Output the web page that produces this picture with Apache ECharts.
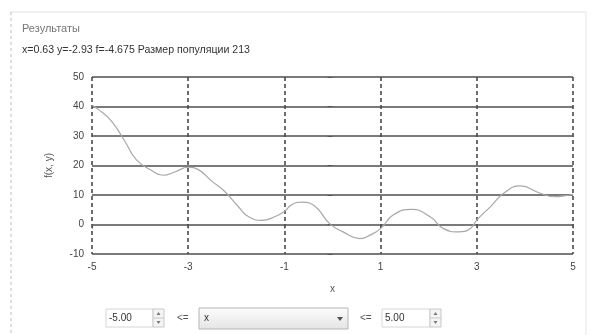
<!DOCTYPE html>
<html><head><meta charset="utf-8">
<script src="https://cdn.jsdelivr.net/npm/echarts@6/dist/echarts.min.js"></script>
<style>html,body{margin:0;padding:0;background:#fff;}#c{width:592px;height:335px;}</style>
</head><body><div id="c"></div>
<script>
const titleText = 'Результаты';
const infoText = 'x=0.63 y=-2.93 f=-4.675 Размер популяции 213';
const xName = 'x';
const yName = 'f(x, y)';
const xVals = [-5, -4.875, -4.6, -4.32, -4.08, -3.76, -3.52, -3.28, -3.0, -2.79, -2.51, -2.24, -1.96, -1.75, -1.47, -1.19, -1.0, -0.85, -0.64, -0.36, -0.06, 0.22, 0.57, 0.78, 1.0, 1.26, 1.65, 2.03, 2.31, 2.62, 2.86, 3.0, 3.28, 3.56, 3.90, 4.32, 4.6, 4.94, 5.0];
const yVals = [40.4, 39.1, 35.1, 28.3, 22, 18.3, 16.7, 17.8, 19.4, 18.6, 14.7, 11.2, 6.1, 2.7, 1.4, 2.7, 4.4, 6.7, 7.6, 6.1, 0.3, -2.5, -4.8, -3.6, -1.4, 3.2, 5.1, 2.6, -1.4, -2.5, -1.4, 1.5, 6.0, 10.6, 13.1, 10.6, 9.4, 10, 10.2];
const xMin = -5, xMax = 5, xStep = 2;
const yMin = -10, yMax = 50, yStep = 10;
const lowText = '-5.00', highText = '5.00', leText = '<=', selText = 'x';

const chart = echarts.init(document.getElementById('c'), null, {renderer:'canvas'});
const font = 'Arial, "Liberation Sans", sans-serif';
function spinner(x, y) {
  return [
    {type:'rect', shape:{x:x, y:y, width:11, height:18}, style:{fill:'#f4f4f4', stroke:'#c8c8c8', lineWidth:1}},
    {type:'line', shape:{x1:x, y1:y+9, x2:x+11, y2:y+9}, style:{stroke:'#c8c8c8'}},
    {type:'polygon', shape:{points:[[x+3.5,y+6],[x+7.5,y+6],[x+5.5,y+3]]}, style:{fill:'#777'}},
    {type:'polygon', shape:{points:[[x+3.5,y+12],[x+7.5,y+12],[x+5.5,y+15]]}, style:{fill:'#777'}}
  ];
}
const graphics = [
  {type:'line', shape:{x1:10, y1:12, x2:586, y2:12}, style:{stroke:'#e2e2e2', lineWidth:1}},
  {type:'line', shape:{x1:11, y1:12, x2:11, y2:335}, style:{stroke:'#bdbdbd', lineWidth:1, lineDash:[3,3]}},
  {type:'line', shape:{x1:586, y1:12, x2:586, y2:335}, style:{stroke:'#e6e6e6', lineWidth:1}},
  {type:'text', left:22, top:23, style:{text:titleText, font:'11px '+font, fill:'#777'}},
  {type:'text', left:22, top:45, style:{text:infoText, font:'10.6px '+font, fill:'#333'}},
  {type:'rect', shape:{x:106, y:309, width:47, height:18}, style:{fill:'#fff', stroke:'#d6d6d6', lineWidth:1}},
  {type:'text', left:109, top:313, style:{text:lowText, font:'10px '+font, fill:'#333'}},
  ...spinner(153, 309),
  {type:'text', left:177, top:313, style:{text:leText, font:'10px '+font, fill:'#555'}},
  {type:'rect', shape:{x:199, y:308, width:149, height:21},
    style:{fill:new echarts.graphic.LinearGradient(0,0,0,1,[{offset:0,color:'#fdfdfd'},{offset:1,color:'#e4e4e4'}]), stroke:'#b5b5b5', lineWidth:1}},
  {type:'text', left:204, top:313, style:{text:selText, font:'10px '+font, fill:'#333'}},
  {type:'polygon', shape:{points:[[337,317],[343,317],[340,321]]}, style:{fill:'#555'}},
  {type:'text', left:360, top:313, style:{text:leText, font:'10px '+font, fill:'#555'}},
  {type:'rect', shape:{x:382, y:309, width:48, height:18}, style:{fill:'#fff', stroke:'#d6d6d6', lineWidth:1}},
  {type:'text', left:385, top:313, style:{text:highText, font:'10px '+font, fill:'#333'}},
  ...spinner(430, 309)
];

chart.setOption({
  animation:false,
  backgroundColor:'#fff',
  graphic: graphics,
  grid:{left:92, right:19, top:77, bottom:81, containLabel:false},
  xAxis:{
    type:'value', min:xMin, max:xMax, interval:xStep,
    name:xName, nameLocation:'middle', nameGap:30,
    nameTextStyle:{color:'#555', fontSize:10, fontFamily:font},
    axisLine:{show:false},
    axisTick:{show:true, length:4, inside:false, lineStyle:{color:'#555'}},
    axisLabel:{color:'#444', fontSize:10, fontFamily:font, margin:8},
    splitLine:{show:true, lineStyle:{color:'#4a4a4a', width:1.6, type:[4,3]}}
  },
  yAxis:{
    type:'value', min:yMin, max:yMax, interval:yStep,
    name:yName, nameLocation:'middle', nameGap:38, nameRotate:90,
    nameTextStyle:{color:'#555', fontSize:10, fontFamily:font},
    axisLine:{show:false},
    axisTick:{show:true, length:5, lineStyle:{color:'#555'}},
    axisLabel:{color:'#444', fontSize:10, fontFamily:font, margin:8},
    splitLine:{show:true, lineStyle:{color:'#7a7a7a', width:2}}
  },
  series:[{
    type:'line', smooth:0.5, symbol:'none',
    data: xVals.map((x,i)=>[x, yVals[i]]),
    lineStyle:{color:'#a8a8a8', width:1.2},
    z:5
  }]
});
</script></body></html>
